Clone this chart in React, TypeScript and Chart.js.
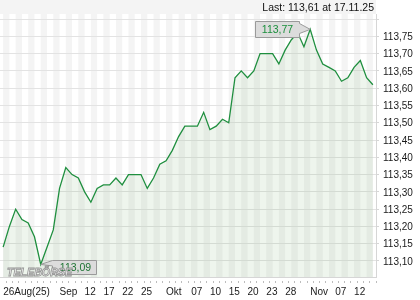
import React, { useEffect, useRef } from 'react';
import { Chart, registerables } from 'chart.js';

Chart.register(...registerables);

// Trading days, 26.08.2025 – 17.11.2025
const dates: string[] = [
  '26.08.25', '27.08.25', '28.08.25', '29.08.25',
  '01.09.25', '02.09.25', '03.09.25', '04.09.25', '05.09.25', '08.09.25', '09.09.25', '10.09.25', '11.09.25', '12.09.25',
  '15.09.25', '16.09.25', '17.09.25', '18.09.25', '19.09.25', '22.09.25', '23.09.25', '24.09.25', '25.09.25', '26.09.25',
  '29.09.25', '30.09.25',
  '01.10.25', '02.10.25', '03.10.25', '06.10.25', '07.10.25', '08.10.25', '09.10.25', '10.10.25', '13.10.25', '14.10.25',
  '15.10.25', '16.10.25', '17.10.25', '20.10.25', '21.10.25', '22.10.25', '23.10.25', '24.10.25', '27.10.25', '28.10.25',
  '29.10.25', '30.10.25', '31.10.25',
  '03.11.25', '04.11.25', '05.11.25', '06.11.25', '07.11.25', '10.11.25', '11.11.25', '12.11.25', '13.11.25', '14.11.25',
  '17.11.25',
];

const prices: number[] = [
  113.14, 113.20, 113.25, 113.22, 113.21, 113.17, 113.09, 113.14, 113.19, 113.31,
  113.37, 113.35, 113.34, 113.30, 113.27, 113.31, 113.32, 113.32, 113.34, 113.32,
  113.35, 113.35, 113.35, 113.31, 113.34, 113.38, 113.39, 113.42, 113.46, 113.49,
  113.49, 113.49, 113.53, 113.48, 113.49, 113.51, 113.50, 113.63, 113.65, 113.63,
  113.65, 113.70, 113.70, 113.70, 113.67, 113.71, 113.74, 113.76, 113.72, 113.77,
  113.71, 113.67, 113.66, 113.65, 113.62, 113.63, 113.66, 113.68, 113.63, 113.61,
];

const xTickIndices: number[] = [0, 9, 13, 16, 19, 22, 26, 30, 33, 36, 39, 42, 45, 49, 53, 56];
const xTickTexts: string[] = ['26Aug(25)', 'Sep', '12', '17', '22', '25', 'Okt', '07', '10', '15', '20', '23', '28', 'Nov', '07', '12'];

const yTicks: number[] = [113.10, 113.15, 113.20, 113.25, 113.30, 113.35, 113.40, 113.45, 113.50, 113.55, 113.60, 113.65, 113.70, 113.75, 113.80];
const yUnlabeled: number[] = [113.80];
const yMin = 113.0537;
const yMax = 113.8145;

const headerText = 'Last: 113,61 at 17.11.25';
const watermarkText = 'TELEBÖRSE';

const FONT = '"Liberation Sans", Arial, sans-serif';
const fmt = (v: number) => v.toFixed(2).replace('.', ',');

const backgroundPlugin = {
  id: 'bgStripes',
  beforeDraw(chart: any) {
    const { ctx, chartArea } = chart;
    const { left, right, top, bottom } = chartArea;
    const xs = chart.scales.x;
    ctx.save();
    ctx.fillStyle = '#ffffff';
    ctx.fillRect(0, 0, chart.width, chart.height);
    ctx.fillStyle = '#f4f4f4';
    ctx.fillRect(left, 0, right - left, top);
    for (let i = 0; i < prices.length - 1; i += 2) {
      const x0 = xs.getPixelForValue(i);
      const x1 = xs.getPixelForValue(i + 1);
      ctx.fillRect(x0, top, x1 - x0, bottom - top);
    }
    ctx.fillStyle = '#111111';
    ctx.font = `10.5px ${FONT}`;
    ctx.textAlign = 'right';
    ctx.textBaseline = 'alphabetic';
    ctx.fillText(headerText, right - 2, 11);
    ctx.restore();
  },
};

const annotationPlugin = {
  id: 'extremes',
  afterDatasetsDraw(chart: any) {
    const { ctx } = chart;
    const meta = chart.getDatasetMeta(0);
    const maxV = Math.max(...prices);
    const minV = Math.min(...prices);
    const iMax = prices.indexOf(maxV);
    const iMin = prices.indexOf(minV);
    const pMax = meta.data[iMax];
    const pMin = meta.data[iMin];
    const w = 44;
    const h = 16;
    ctx.save();
    ctx.lineWidth = 1;
    ctx.strokeStyle = '#9a9a9a';
    ctx.fillStyle = '#dcdcdc';

    // max label, box to the left of the point
    {
      const R = Math.round(pMax.x - 11) + 0.5;
      const L = R - w;
      const T = Math.round(pMax.y - 8.5) + 0.5;
      const B = T + h;
      ctx.beginPath();
      ctx.moveTo(L, T);
      ctx.lineTo(R, T);
      ctx.lineTo(R, T + 2);
      ctx.lineTo(pMax.x, pMax.y);
      ctx.lineTo(R, T + 12);
      ctx.lineTo(R, B);
      ctx.lineTo(L, B);
      ctx.closePath();
      ctx.fill();
      ctx.stroke();
      ctx.fillStyle = '#1a8f3c';
      ctx.font = `10.5px ${FONT}`;
      ctx.textAlign = 'center';
      ctx.textBaseline = 'middle';
      ctx.fillText(fmt(maxV), (L + R) / 2, (T + B) / 2 + 0.5);
    }

    // min label, box to the right of the point
    {
      ctx.fillStyle = '#dcdcdc';
      const L = Math.round(pMin.x + 11) + 0.5;
      const R = L + w;
      const T = Math.round(pMin.y - 4.5) + 0.5;
      const B = T + h - 2;
      ctx.beginPath();
      ctx.moveTo(L, T);
      ctx.lineTo(R, T);
      ctx.lineTo(R, B);
      ctx.lineTo(L, B);
      ctx.lineTo(L, pMin.y + 1.5);
      ctx.lineTo(pMin.x, pMin.y);
      ctx.closePath();
      ctx.fill();
      ctx.stroke();
      ctx.fillStyle = '#1f7434';
      ctx.font = `10.5px ${FONT}`;
      ctx.textAlign = 'center';
      ctx.textBaseline = 'middle';
      ctx.fillText(fmt(minV), (L + R) / 2 + 1, (T + B) / 2 + 0.5);
    }

    // watermark
    {
      ctx.font = `italic bold 11px ${FONT}`;
      const tw = ctx.measureText(watermarkText).width;
      const sx = 65 / tw;
      ctx.translate(chart.chartArea.left + 7, chart.chartArea.bottom - 1);
      ctx.scale(sx, 1);
      ctx.textAlign = 'left';
      ctx.textBaseline = 'alphabetic';
      ctx.fillStyle = 'rgba(255,255,255,0.9)';
      ctx.strokeStyle = 'rgba(140,140,140,0.9)';
      ctx.lineWidth = 0.9;
      ctx.fillText(watermarkText, 0, 0);
      ctx.strokeText(watermarkText, 0, 0);
    }
    ctx.restore();
  },
};

export default function App() {
  const canvasRef = useRef<HTMLCanvasElement | null>(null);

  useEffect(() => {
    const canvas = canvasRef.current;
    if (!canvas) return;
    const chart = new Chart(canvas, {
      type: 'line',
      data: {
        labels: dates,
        datasets: [
          {
            data: prices,
            borderColor: '#1f8f3f',
            borderWidth: 1.3,
            pointRadius: 0,
            tension: 0,
            fill: 'start',
            backgroundColor: 'rgba(70,140,60,0.09)',
          },
        ],
      },
      options: {
        responsive: false,
        animation: false,
        devicePixelRatio: 1,
        layout: { padding: { top: 14, left: 0, right: 0, bottom: 0 } },
        plugins: {
          legend: { display: false },
          tooltip: { enabled: false },
          title: { display: false },
        },
        scales: {
          x: {
            type: 'category',
            offset: true,
            grid: {
              offset: true,
              drawOnChartArea: false,
              drawTicks: true,
              tickLength: 6,
              tickColor: '#bdbdbd',
              tickBorderDash: [3, 3],
              tickBorderDashOffset: 3,
            },
            border: { display: true, color: '#d6d6d6' },
            ticks: {
              autoSkip: false,
              maxRotation: 0,
              minRotation: 0,
              align: 'start',
              padding: 3,
              color: '#1a1a1a',
              font: { family: FONT, size: 10 },
              callback: (_v: any, i: number) => {
                const k = xTickIndices.indexOf(i);
                return k >= 0 ? xTickTexts[k] : '';
              },
            },
            afterFit: (s: any) => {
              s.height = 23;
            },
          },
          y: {
            position: 'right',
            min: yMin,
            max: yMax,
            afterBuildTicks: (s: any) => {
              s.ticks = yTicks.map((v) => ({ value: v }));
            },
            grid: { color: '#e3e3e3', tickLength: 3, tickColor: '#d6d6d6' },
            border: { display: true, color: '#d6d6d6' },
            ticks: {
              padding: 4,
              labelOffset: 1,
              color: '#1a1a1a',
              font: { family: FONT, size: 10 },
              callback: (v: any) => {
                const n = Number(v);
                if (yUnlabeled.some((u) => Math.abs(u - n) < 1e-6)) return '';
                return fmt(n);
              },
            },
            afterFit: (s: any) => {
              s.width = 44;
            },
          },
        },
      },
      plugins: [backgroundPlugin, annotationPlugin],
    } as any);
    return () => chart.destroy();
  }, []);

  return (
    <div style={{ position: 'fixed', left: 0, top: 0, width: 420, height: 300, background: '#fff' }}>
      <canvas ref={canvasRef} width={420} height={300} style={{ width: 420, height: 300, display: 'block' }} />
    </div>
  );
}
